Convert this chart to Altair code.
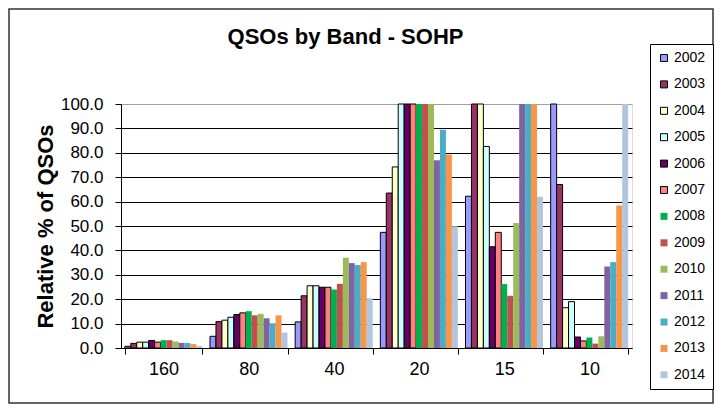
import altair as alt
import pandas as pd

bands = ["160", "80", "40", "20", "15", "10"]
years = [str(y) for y in range(2002, 2015)]

# Relative % of QSOs per band, one value per year 2002..2014 (clipped at 100 in the chart)
b160 = [0.7, 1.9, 2.4, 2.4, 3.1, 2.4, 3.2, 3.2, 2.7, 2.1, 2.1, 1.6, 0.8]
b80 = [4.8, 10.8, 11.4, 12.6, 13.7, 14.4, 15.1, 13.4, 14.0, 12.2, 10.1, 13.4, 6.3]
b40 = [10.7, 21.4, 25.5, 25.5, 24.9, 24.9, 24.0, 26.3, 37.0, 34.8, 34.0, 35.2, 20.4]
b20 = [47.4, 63.5, 74.2, 100, 100, 100, 100, 100, 100, 76.9, 89.4, 79.3, 49.9]
b15 = [62.2, 100, 100, 82.6, 41.5, 47.4, 26.2, 21.4, 51.2, 100, 100, 100, 62.0]
b10 = [100, 67.0, 16.5, 19.0, 4.5, 2.9, 4.3, 1.8, 4.8, 33.4, 35.2, 58.4, 100]

fills = ["#9999FF", "#993366", "#FFFFCC", "#CCFFFF", "#660066", "#FF8080",
         "#00B050", "#C0504D", "#9BBB59", "#8064A2", "#4BACC6", "#F79646", "#B3C4DE"]
strokes = ["#000000"] * 6 + ["transparent"] * 7

rows = []
for band, vals in zip(bands, [b160, b80, b40, b20, b15, b10]):
    for yr, v in zip(years, vals):
        rows.append({"band": band, "year": yr, "pct": v})
df = pd.DataFrame(rows)

FONT = "Liberation Sans, Arial"

legend = alt.Legend(
    title=None, orient="none", legendX=529, legendY=-60,
    padding=7, strokeColor="black", fillColor="white",
    labelFontSize=14, labelFont=FONT, labelColor="black", labelOffset=3,
    symbolType="square", symbolSize=49, symbolStrokeWidth=1,
    rowPadding=12.4, labelLimit=100,
)

bars = alt.Chart(df).mark_bar(strokeWidth=1).encode(
    x=alt.X("band:N", sort=bands,
            scale=alt.Scale(paddingInner=0.09, paddingOuter=0.045),
            axis=alt.Axis(title=None, labelAngle=0, labelFontSize=18, labelFont=FONT,
                          labelColor="black", labelPadding=6, tickBand="extent",
                          tickSize=6, tickColor="black", domainColor="black",
                          grid=False)),
    xOffset=alt.XOffset("year:N", sort=years,
                        scale=alt.Scale(paddingInner=0, paddingOuter=0)),
    y=alt.Y("pct:Q", scale=alt.Scale(domain=[0, 100], nice=False),
            axis=alt.Axis(title="Relative % of QSOs", values=list(range(0, 101, 10)),
                          format=".1f", labelFontSize=17, labelFont=FONT,
                          labelColor="black", labelPadding=12,
                          tickSize=6, tickColor="black", domainColor="black",
                          gridColor=alt.condition("datum.value == 100",
                                                  alt.value("#A0A0A0"), alt.value("black")),
                          gridWidth=1,
                          titleFont=FONT, titleFontSize=22, titleFontWeight="bold",
                          titleColor="black", titleX=-76, titleY=122, titleAngle=270,
                          titleAlign="center", titleBaseline="middle")),
    fill=alt.Fill("year:N", sort=years, scale=alt.Scale(domain=years, range=fills),
                  legend=legend),
    stroke=alt.Stroke("year:N", sort=years, scale=alt.Scale(domain=years, range=strokes),
                      legend=legend),
)

border = alt.Chart(pd.DataFrame({"k": [0]})).mark_rect(
    fillOpacity=0, stroke="#333333", strokeWidth=1.5
).encode(x=alt.value(-112), x2=alt.value(592), y=alt.value(-95), y2=alt.value(299))

chart = alt.layer(border, bars).properties(
    width=511, height=244,
    title=alt.TitleParams("QSOs by Band - SOHP", fontSize=22, fontWeight="bold",
                          font=FONT, color="black", anchor="middle", dx=-31,
                          baseline="alphabetic", offset=-58),
    autosize=alt.AutoSizeParams(type="none"),
    padding={"left": 113, "top": 96, "right": 82, "bottom": 56},
).configure_view(stroke="#A0A0A0", strokeWidth=1).configure(background="white")

chart.save("out.html", embed_options={"renderer": "svg", "actions": False})
